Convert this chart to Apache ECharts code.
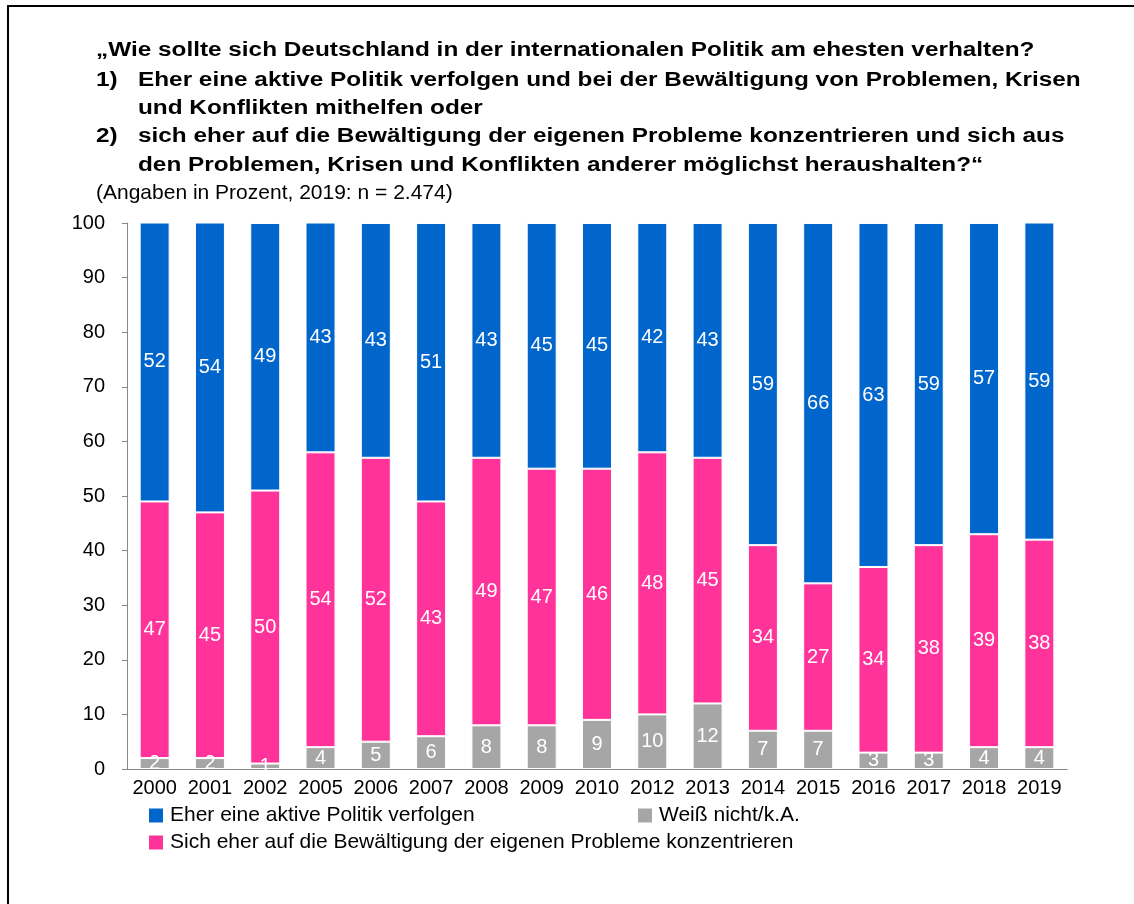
<!DOCTYPE html>
<html>
<head>
<meta charset="utf-8">
<script src="https://cdn.jsdelivr.net/npm/echarts@6/dist/echarts.min.js"></script>
<style>
  html, body { margin: 0; padding: 0; background: #fff; }
  #frame { position: absolute; left: 7px; top: 5px; width: 1200px; height: 1000px;
           border-left: 2px solid #000; border-top: 2px solid #000; }
  #main { position: absolute; left: 0; top: 0; width: 1134px; height: 904px; }
</style>
</head>
<body>
<div id="frame"></div>
<div id="main"></div>
<script>
var years = ['2000', '2001', '2002', '2005', '2006', '2007', '2008', '2009', '2010',
  '2012', '2013', '2014', '2015', '2016', '2017', '2018', '2019'];
var aktiv = [52, 54, 49, 43, 43, 51, 43, 45, 45, 42, 43, 59, 66, 63, 59, 57, 59];
var eigene = [47, 45, 50, 54, 52, 43, 49, 47, 46, 48, 45, 34, 27, 34, 38, 39, 38];
var weissNicht = [2, 2, 1, 4, 5, 6, 8, 8, 9, 10, 12, 7, 7, 3, 3, 4, 4];

var nameAktiv = 'Eher eine aktive Politik verfolgen';
var nameEigene = 'Sich eher auf die Bewältigung der eigenen Probleme konzentrieren';
var nameWeiss = 'Weiß nicht/k.A.';

var font = 'Arial, "Liberation Sans", sans-serif';

// title lines are a bit wider than plain Arial bold, so stretch them
function titleLine(text, x, y) {
  return {
    type: 'text', x: x, y: y, scaleX: 1.217,
    style: {
      text: text, fill: '#000', font: 'bold 20px ' + font,
      verticalAlign: 'top', lineHeight: 20
    }
  };
}

function legendItem(name, left, top) {
  return {
    data: [name], left: left, top: top, padding: 0,
    icon: 'rect', itemWidth: 16, itemHeight: 16, itemGap: 0,
    textStyle: { fontFamily: font, fontSize: 21, color: '#000', padding: [0, 0, 0, 1] },
    selectedMode: false
  };
}

function barSeries(name, data, color) {
  return {
    name: name, type: 'bar', stack: 'total', data: data, barWidth: 30,
    itemStyle: { color: color, borderColor: '#fff', borderWidth: 1 },
    label: { show: true, position: 'inside', color: '#fff', fontFamily: font, fontSize: 20 }
  };
}

var chart = echarts.init(document.getElementById('main'));
chart.setOption({
  backgroundColor: 'transparent',
  animation: false,
  title: {
    text: '(Angaben in Prozent, 2019: n = 2.474)', left: 96, top: 183, padding: 0,
    textStyle: { fontFamily: font, fontSize: 21, fontWeight: 'normal', color: '#000', lineHeight: 21 }
  },
  graphic: [
    titleLine('„Wie sollte sich Deutschland in der internationalen Politik am ehesten verhalten?', 96, 40),
    titleLine('1)', 96, 70),
    titleLine('Eher eine aktive Politik verfolgen und bei der Bewältigung von Problemen, Krisen', 138, 70),
    titleLine('und Konflikten mithelfen oder', 138, 98),
    titleLine('2)', 96, 126),
    titleLine('sich eher auf die Bewältigung der eigenen Probleme konzentrieren und sich aus', 138, 126),
    titleLine('den Problemen, Krisen und Konflikten anderer möglichst heraushalten?“', 138, 155)
  ],
  legend: [
    legendItem(nameAktiv, 147, 805),
    legendItem(nameWeiss, 636, 805),
    legendItem(nameEigene, 147, 832)
  ],
  grid: { left: 127, right: 67, top: 223, bottom: 135 },
  xAxis: {
    type: 'category', data: years,
    axisLine: { lineStyle: { color: '#888', width: 1 } },
    axisTick: { length: 5, lineStyle: { color: '#888' } },
    axisLabel: { color: '#000', fontFamily: font, fontSize: 20, margin: 9, interval: 0 }
  },
  yAxis: {
    type: 'value', min: 0, max: 100, interval: 10,
    axisLine: { show: true, lineStyle: { color: '#888', width: 1 } },
    axisTick: { show: true, length: 5, lineStyle: { color: '#888' } },
    axisLabel: { color: '#000', fontFamily: font, fontSize: 20, margin: 22 },
    splitLine: { show: false }
  },
  series: [
    barSeries(nameWeiss, weissNicht, '#A6A6A6'),
    barSeries(nameEigene, eigene, '#FF3399'),
    barSeries(nameAktiv, aktiv, '#0066CC')
  ]
});
</script>
</body>
</html>
